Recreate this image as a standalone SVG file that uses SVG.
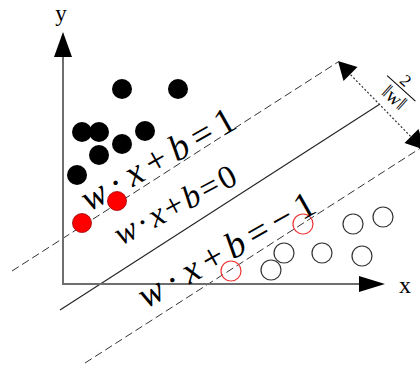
<svg xmlns="http://www.w3.org/2000/svg" width="420" height="365" viewBox="0 0 420 365">
<style>
.axis{stroke:#6e6e6e;stroke-width:2;fill:none}
.head{fill:#000}
.dash{stroke:#333;stroke-width:1;stroke-dasharray:8 4;fill:none}
.solid{stroke:#222;stroke-width:1.1;fill:none}
.dot{stroke:#333;stroke-width:1.2;stroke-dasharray:2 2;fill:none}
.pos{fill:#000}
.neg{fill:none;stroke:#333;stroke-width:1.2}
.sv1{fill:#f00;stroke:#900;stroke-width:0.8}
.sv2{fill:none;stroke:#e33;stroke-width:1.2}
.lbl{font-family:"Liberation Serif","Times New Roman",serif;fill:#000}
.it{font-style:italic}
</style>
<rect width="420" height="365" fill="#fff"/>
<g id="connectors">
  <line class="dash" x1="12" y1="271" x2="338" y2="62"/>
  <line class="solid" x1="60" y1="310" x2="380" y2="104"/>
  <line class="dash" x1="85" y1="363" x2="430" y2="142"/>
  <line class="dot" x1="345" y1="69" x2="418" y2="144"/>
  <polygon class="head" points="338,61 343.5,81 357.5,67"/>
  <polygon class="head" points="425,150 404.5,143 418.5,129"/>
</g>
<g id="axes">
  <line class="axis" x1="63" y1="284" x2="63" y2="56"/>
  <polygon class="head" points="63,32 54,57 72,57"/>
  <line class="axis" x1="62" y1="284" x2="360" y2="284"/>
  <polygon class="head" points="385,284 359,276 359,292"/>
  <text class="lbl" x="61" y="21" font-size="23" text-anchor="middle">y</text>
  <text class="lbl" x="399" y="293" font-size="24">x</text>
</g>
<g id="positive">
  <circle class="pos" cx="122" cy="89" r="10"/>
  <circle class="pos" cx="178" cy="89" r="10"/>
  <circle class="pos" cx="82" cy="132" r="10"/>
  <circle class="pos" cx="99" cy="132" r="10"/>
  <circle class="pos" cx="145" cy="131" r="10"/>
  <circle class="pos" cx="122" cy="144" r="10"/>
  <circle class="pos" cx="99" cy="155" r="10"/>
  <circle class="pos" cx="77" cy="175" r="10"/>
  <circle class="sv1" cx="82" cy="223" r="9.5"/>
  <circle class="sv1" cx="117" cy="201" r="9.5"/>
</g>
<g id="negative">
  <circle class="sv2" cx="231" cy="271" r="10"/>
  <circle class="sv2" cx="303" cy="224" r="10"/>
  <circle class="neg" cx="271" cy="270" r="10"/>
  <circle class="neg" cx="284" cy="253" r="10"/>
  <circle class="neg" cx="322" cy="253" r="10"/>
  <circle class="neg" cx="362" cy="256" r="10"/>
  <circle class="neg" cx="353" cy="224" r="10"/>
  <circle class="neg" cx="383" cy="217" r="10"/>
</g>
<g id="label-plus1">
  <text class="lbl" font-size="37" transform="translate(89,212) rotate(-29.5)" textLength="172" lengthAdjust="spacing"><tspan class="it">w</tspan>·<tspan class="it">x</tspan>+<tspan class="it">b</tspan>=1</text>
</g>
<g id="label-zero">
  <text class="lbl" font-size="33" transform="translate(121,246) rotate(-28)" textLength="134" lengthAdjust="spacing"><tspan class="it">w</tspan>·<tspan class="it">x</tspan>+<tspan class="it">b</tspan>=0</text>
</g>
<g id="label-minus1">
  <text class="lbl" font-size="37" transform="translate(146,309) rotate(-29.5)" textLength="198" lengthAdjust="spacing"><tspan class="it">w</tspan>·<tspan class="it">x</tspan>+<tspan class="it">b</tspan>=−1</text>
</g>
<g id="margin-label" transform="translate(394,98) rotate(42)">
  <text class="lbl" x="0" y="6" font-size="20" text-anchor="middle">‖w‖</text>
  <line x1="-20" y1="-12" x2="18" y2="-12" stroke="#000" stroke-width="1"/>
  <text class="lbl" x="-3" y="-15" font-size="17" text-anchor="middle">2</text>
</g>
</svg>
